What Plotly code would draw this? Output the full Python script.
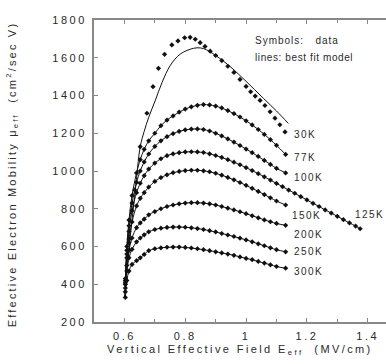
import plotly.graph_objects as go

# ---- data ----
x30 = [0.603, 0.615, 0.634, 0.652, 0.674, 0.694, 0.712, 0.732, 0.756, 0.776, 0.798, 0.816, 0.833,
       0.849, 0.865, 0.882, 0.900, 0.920, 0.940, 0.960, 0.980, 1.000, 1.015, 1.030, 1.046, 1.062,
       1.079, 1.095, 1.111, 1.128]
y30 = [400, 620, 900, 1129, 1306, 1447, 1544, 1618, 1668, 1689, 1706, 1708, 1698,
       1680, 1660, 1635, 1612, 1585, 1555, 1522, 1485, 1448, 1420, 1397, 1374, 1347,
       1314, 1280, 1245, 1207]
x30_fit = [0.600, 0.610, 0.625, 0.636, 0.652, 0.665, 0.680, 0.702, 0.724, 0.751, 0.784, 0.827,
           0.850, 0.870, 0.900, 0.950, 1.000, 1.057, 1.100, 1.139]
y30_fit = [330, 500, 740, 900, 1129, 1210, 1285, 1376, 1470, 1560, 1620, 1650,
           1652, 1642, 1612, 1550, 1475, 1385, 1318, 1252]

x_std = [0.603, 0.608, 0.615, 0.625, 0.640, 0.652, 0.665, 0.680, 0.700, 0.720, 0.740, 0.760,
         0.780, 0.800, 0.820, 0.840, 0.860, 0.880, 0.900, 0.920, 0.940, 0.960, 0.980, 1.000,
         1.020, 1.040, 1.060, 1.080, 1.100, 1.130]
y77 = [430, 600, 740, 870, 990, 1060, 1115, 1160, 1200, 1240, 1270, 1292,
       1312, 1328, 1340, 1348, 1352, 1350, 1344, 1334, 1320, 1304, 1286, 1266,
       1244, 1220, 1194, 1166, 1136, 1088]
y100 = [420, 580, 710, 830, 940, 1000, 1048, 1090, 1130, 1160, 1182, 1198,
        1210, 1218, 1222, 1223, 1220, 1212, 1200, 1186, 1170, 1153, 1135, 1116,
        1097, 1077, 1056, 1035, 1014, 990]
y150 = [400, 540, 640, 730, 815, 855, 885, 915, 945, 965, 980, 991,
        998, 1002, 1004, 1004, 1001, 996, 988, 978, 966, 953, 939, 924,
        908, 892, 875, 858, 841, 820]
y200 = [380, 500, 580, 645, 700, 725, 745, 768, 785, 800, 812, 820,
        826, 830, 832, 832, 830, 826, 820, 812, 803, 794, 784, 774,
        763, 752, 741, 731, 722, 712]
y250 = [360, 470, 540, 585, 625, 645, 662, 678, 690, 697, 701, 703,
        703, 702, 699, 695, 690, 684, 677, 669, 661, 653, 644, 635,
        625, 614, 604, 593, 583, 572]
y300 = [330, 420, 470, 505, 525, 540, 558, 578, 588, 593, 596, 597,
        597, 595, 592, 588, 583, 578, 572, 566, 560, 553, 545, 537,
        530, 521, 512, 503, 494, 485]

x125 = [0.603, 0.608, 0.615, 0.625, 0.640, 0.652, 0.665, 0.680, 0.700, 0.720, 0.740, 0.760,
        0.780, 0.800, 0.820, 0.840, 0.860, 0.880, 0.900, 0.920, 0.940, 0.960, 0.980, 1.000,
        1.020, 1.040, 1.060, 1.080, 1.100, 1.120, 1.140, 1.160, 1.180, 1.200, 1.220, 1.240,
        1.260, 1.280, 1.300, 1.320, 1.340, 1.360, 1.375]
y125 = [410, 560, 680, 790, 885, 935, 975, 1010, 1042, 1065, 1081, 1091,
        1097, 1101, 1102, 1101, 1098, 1091, 1082, 1072, 1060, 1047, 1033, 1018,
        1002, 986, 969, 952, 934, 917, 899, 882, 864, 847, 829, 812,
        794, 777, 760, 742, 725, 708, 694]

temp_labels = ["30K", "77K", "100K", "150K", "200K", "250K", "300K", "125K"]
label_x = [1.151, 1.151, 1.151, 1.146, 1.151, 1.151, 1.151, 1.352]
label_y = [1191, 1074, 968, 762, 661, 571, 465, 772]

x_ticks = [0.6, 0.8, 1.0, 1.2, 1.4]
x_ticktext = ["0.6", "0.8", "1", "1.2", "1.4"]
y_ticks = [200, 400, 600, 800, 1000, 1200, 1400, 1600, 1800]

FONT = "Liberation Sans, Arial, sans-serif"
INK = "#2a2a2a"


def spaced(s, sp=1.6):
    return '<span style="letter-spacing:%.1fpx">%s</span>' % (sp, s)


fig = go.Figure()

# 30K: data symbols and separate best-fit line
fig.add_trace(go.Scatter(x=x30_fit, y=y30_fit, mode="lines", line=dict(color="#111", width=1,
                         shape="spline"), showlegend=False, hoverinfo="skip"))
fig.add_trace(go.Scatter(x=x30, y=y30, mode="markers", marker=dict(color="#111", size=4,
                         symbol="diamond"), showlegend=False))

for ys in [y77, y100, y150, y200, y250, y300]:
    fig.add_trace(go.Scatter(x=x_std, y=ys, mode="lines+markers",
                             line=dict(color="#111", width=1, shape="spline"),
                             marker=dict(color="#111", size=4, symbol="diamond"),
                             showlegend=False))
fig.add_trace(go.Scatter(x=x125, y=y125, mode="lines+markers",
                         line=dict(color="#111", width=1, shape="spline"),
                         marker=dict(color="#111", size=4, symbol="diamond"),
                         showlegend=False))

for t, lx, ly in zip(temp_labels, label_x, label_y):
    fig.add_annotation(x=lx, y=ly, xref="x", yref="y", text=spaced(t, 1.4), showarrow=False,
                       xanchor="left", yanchor="middle",
                       font=dict(family=FONT, size=10, color=INK))

fig.add_annotation(x=1.023, y=1689, xref="x", yref="y", text=spaced("Symbols:   data", 1.0),
                   showarrow=False, xanchor="left", yanchor="middle",
                   font=dict(family=FONT, size=10, color=INK))
fig.add_annotation(x=1.023, y=1604, xref="x", yref="y",
                   text=spaced("lines: best fit model", 0.6),
                   showarrow=False, xanchor="left", yanchor="middle",
                   font=dict(family=FONT, size=10, color=INK))

# axis titles
fig.add_annotation(x=0.5, y=-0.093, xref="paper", yref="paper", yanchor="middle",
                   text=spaced("Vertical Effective Field E<sub>eff</sub>  (MV/cm)", 2.4),
                   showarrow=False, font=dict(family=FONT, size=11, color=INK))
fig.add_annotation(x=-0.28, y=0.49, xref="paper", yref="paper", textangle=-90,
                   xanchor="center", yanchor="middle",
                   text=spaced("Effective Electron Mobility \u03bc<sub>eff</sub>  (cm<sup>2</sup>/sec V)", 2.2),
                   showarrow=False, font=dict(family=FONT, size=11, color=INK))

fig.update_layout(
    width=386, height=364,
    margin=dict(l=94, r=0, t=20, b=42),
    paper_bgcolor="white", plot_bgcolor="white",
    font=dict(family=FONT, size=11, color=INK),
    xaxis=dict(range=[0.5, 1.46], tickvals=x_ticks, ticktext=[spaced(t, 2.5) for t in x_ticktext],
               ticks="inside", ticklen=4, tickcolor="#888", showline=True, linecolor="#888",
               linewidth=2, mirror="ticks", showgrid=False, zeroline=False,
               ticklabelstandoff=3,
               minor=dict(dtick=0.1, tick0=0.5, ticks="inside", ticklen=3, tickcolor="#888")),
    yaxis=dict(range=[200, 1800], tickvals=y_ticks, ticktext=[spaced(str(v), 2.5) for v in y_ticks],
               ticks="inside", ticklen=4,
               tickcolor="#888", showline=True, linecolor="#888", linewidth=2,
               showgrid=False, zeroline=False, ticklabelstandoff=3),
)

fig.write_html("out.html", config={"displayModeBar": False},
               post_script="document.body.style.margin='0';document.body.style.overflow='hidden';")
